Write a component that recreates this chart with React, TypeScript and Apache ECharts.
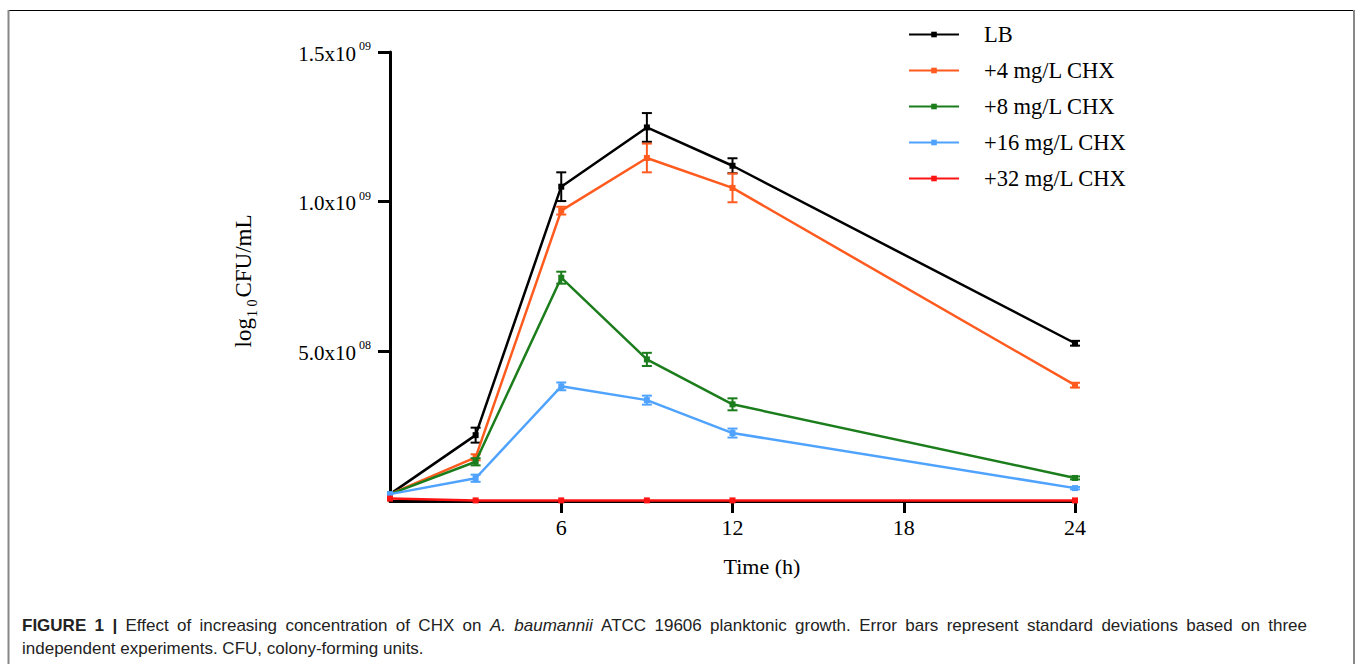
import React, { useEffect, useRef } from "react";
import * as echarts from "echarts";

const times = [0, 3, 6, 9, 12, 24];
const seriesNames = ["LB", "+4 mg/L CHX", "+8 mg/L CHX", "+16 mg/L CHX", "+32 mg/L CHX"];
const seriesColors = ["#000000", "#ff5b1f", "#1b7d1b", "#4fa3ff", "#ff1414"];

const lbMean = [0.023e9, 0.22e9, 1.05e9, 1.248e9, 1.12e9, 0.527e9];
const lbSd = [0, 0.025e9, 0.048e9, 0.048e9, 0.025e9, 0.008e9];
const chx4Mean = [0.023e9, 0.146e9, 0.97e9, 1.146e9, 1.046e9, 0.387e9];
const chx4Sd = [0, 0.01e9, 0.013e9, 0.048e9, 0.048e9, 0.008e9];
const chx8Mean = [0.023e9, 0.131e9, 0.746e9, 0.473e9, 0.323e9, 0.077e9];
const chx8Sd = [0, 0.012e9, 0.02e9, 0.022e9, 0.02e9, 0.005e9];
const chx16Mean = [0.023e9, 0.076e9, 0.383e9, 0.337e9, 0.227e9, 0.043e9];
const chx16Sd = [0, 0.012e9, 0.013e9, 0.015e9, 0.015e9, 0.004e9];
const chx32Mean = [0.008e9, 0.002e9, 0.002e9, 0.002e9, 0.002e9, 0.002e9];
const chx32Sd = [0, 0, 0, 0, 0, 0];

const yTickValues = [5e8, 1e9, 1.5e9];
const yTickLabels = ["5.0x10|08", "1.0x10|09", "1.5x10|09"];
const xTickValues = [6, 12, 18, 24];

const captionLine1 =
  "FIGURE 1 | Effect of increasing concentration of CHX on A. baumannii ATCC 19606 planktonic growth. Error bars represent standard deviations based on three";
const captionLine2 = "independent experiments. CFU, colony-forming units.";
const boldWords = ["FIGURE", "1", "|"];
const italicWords = ["A.", "baumannii"];

const means = [lbMean, chx4Mean, chx8Mean, chx16Mean, chx32Mean];
const sds = [lbSd, chx4Sd, chx8Sd, chx16Sd, chx32Sd];

const SERIF = "'Liberation Serif', 'Times New Roman', serif";
const SANS = "'Liberation Sans', Arial, sans-serif";
const CAP_SIZE = 17;
const CAP_SCALE = 1;
const CAP_COLOR = "#222";

export default function App() {
  const ref = useRef<HTMLDivElement>(null);
  useEffect(() => {
    if (!ref.current) return;
    const chart = echarts.init(ref.current, null, { renderer: "svg" });

    // justified first caption line
    const ctx = document.createElement("canvas").getContext("2d")!;
    const words = captionLine1.split(" ").map((w, idx) => {
      const bold = idx < 3 && boldWords.includes(w);
      const italic = italicWords.includes(w);
      ctx.font = `${italic ? "italic " : ""}${bold ? "bold " : ""}${CAP_SIZE}px "Liberation Sans", Arial, sans-serif`;
      return { w, bold, italic, width: ctx.measureText(w).width * CAP_SCALE };
    });
    const capLeft = 22;
    const capRight = 1307;
    const total = words.reduce((s, o) => s + o.width, 0);
    const gap = (capRight - capLeft - total) / (words.length - 1);
    let cx = capLeft;
    const captionEls: any[] = words.map((o) => {
      const el = {
        type: "text",
        x: cx,
        y: 625,
        scaleX: CAP_SCALE,
        style: {
          text: o.w,
          fontFamily: SANS,
          fontSize: CAP_SIZE,
          fontWeight: o.bold ? "bold" : "normal",
          fontStyle: o.italic ? "italic" : "normal",
          fill: CAP_COLOR,
          verticalAlign: "middle",
        },
      };
      cx += o.width + gap;
      return el;
    });
    captionEls.push({
      type: "text",
      x: capLeft,
      y: 648,
      scaleX: CAP_SCALE,
      style: {
        text: captionLine2,
        fontFamily: SANS,
        fontSize: CAP_SIZE,
        fill: CAP_COLOR,
        verticalAlign: "middle",
      },
    });

    const lineSeries = seriesNames.map((name, i) => ({
      name,
      type: "line",
      data: times.map((t, k) => [t, means[i][k]]),
      symbol: "rect",
      symbolSize: 6,
      showSymbol: true,
      color: seriesColors[i],
      lineStyle: { width: 2.5, color: seriesColors[i] },
      itemStyle: { color: seriesColors[i] },
      z: 3 + i,
    }));

    const errSeries = seriesNames.map((name, i) => ({
      name: name + " SD",
      type: "custom",
      data: times
        .map((t, k) => [t, means[i][k] - sds[i][k], means[i][k] + sds[i][k], sds[i][k]])
        .filter((d) => d[3] > 0),
      encode: { x: 0, y: [1, 2] },
      z: 3 + i,
      renderItem: (params: any, api: any) => {
        const lo = api.coord([api.value(0), api.value(1)]);
        const hi = api.coord([api.value(0), api.value(2)]);
        const w = 5;
        const style = { stroke: seriesColors[i], lineWidth: 2 };
        return {
          type: "group",
          children: [
            { type: "line", shape: { x1: lo[0], y1: lo[1], x2: hi[0], y2: hi[1] }, style },
            { type: "line", shape: { x1: lo[0] - w, y1: lo[1], x2: lo[0] + w, y2: lo[1] }, style },
            { type: "line", shape: { x1: hi[0] - w, y1: hi[1], x2: hi[0] + w, y2: hi[1] }, style },
          ],
        };
      },
    }));

    chart.setOption({
      animation: false,
      backgroundColor: "#ffffff",
      grid: { left: 390, right: 285, top: 52, bottom: 163, containLabel: false },
      legend: {
        orient: "vertical",
        left: 903,
        top: 18,
        itemWidth: 50,
        itemHeight: 7,
        itemGap: 13,
        data: seriesNames,
        textStyle: {
          fontFamily: SERIF,
          fontSize: 22.5,
          color: "#000",
          lineHeight: 22,
          padding: [0, 0, 0, 20],
        },
      },
      xAxis: {
        type: "value",
        min: 0,
        max: 24,
        interval: 6,
        splitLine: { show: false },
        axisLine: { show: true, lineStyle: { color: "#000", width: 3 } },
        axisTick: {
          show: true,
          length: 12,
          customValues: xTickValues,
          lineStyle: { color: "#000", width: 3 },
        },
        axisLabel: {
          customValues: xTickValues,
          color: "#000",
          fontFamily: SERIF,
          fontSize: 22,
          margin: 15,
        },
      },
      yAxis: {
        type: "value",
        min: 0,
        max: 1.5e9,
        interval: 5e8,
        splitLine: { show: false },
        axisLine: { show: true, lineStyle: { color: "#000", width: 3 } },
        axisTick: {
          show: true,
          length: 12,
          customValues: yTickValues,
          lineStyle: { color: "#000", width: 3 },
        },
        axisLabel: {
          customValues: yTickValues,
          margin: 19,
          formatter: (v: number) => {
            const idx = yTickValues.indexOf(v);
            if (idx < 0) return "";
            const [m, e] = yTickLabels[idx].split("|");
            return "{n|" + m + "}{s|" + e + "}";
          },
          rich: {
            n: { fontFamily: SERIF, fontSize: 21, color: "#000", verticalAlign: "bottom", lineHeight: 24 },
            s: { fontFamily: SERIF, fontSize: 12, color: "#000", verticalAlign: "top", lineHeight: 24, padding: [0, 0, 10, 3] },
          },
        },
      },
      graphic: [
        { type: "line", shape: { x1: 8, y1: 10.5, x2: 1354, y2: 10.5 }, style: { stroke: "#000", lineWidth: 1 } },
        { type: "line", shape: { x1: 8.5, y1: 10, x2: 8.5, y2: 664 }, style: { stroke: "#888", lineWidth: 2 } },
        { type: "line", shape: { x1: 1354, y1: 10, x2: 1354, y2: 664 }, style: { stroke: "#888", lineWidth: 2 } },
        {
          type: "text",
          x: 242,
          y: 281,
          rotation: Math.PI / 2,
          style: {
            text: "{a|log}{sub|1 0}{a|CFU/mL}",
            align: "center",
            verticalAlign: "middle",
            rich: {
              a: { fontFamily: SERIF, fontSize: 23, fill: "#000", verticalAlign: "bottom", lineHeight: 26 },
              sub: { fontFamily: SERIF, fontSize: 14, fill: "#000", verticalAlign: "bottom", lineHeight: 26, padding: [0, 2, -4, 1] },
            },
          },
        },
        {
          type: "text",
          x: 762,
          y: 566,
          style: {
            text: "Time (h)",
            fontFamily: SERIF,
            fontSize: 22,
            fill: "#000",
            align: "center",
            verticalAlign: "middle",
          },
        },
        ...captionEls,
      ],
      series: [...errSeries, ...lineSeries],
    });
    return () => chart.dispose();
  }, []);

  return (
    <div
      ref={ref}
      style={{ position: "absolute", left: 0, top: 0, width: 1360, height: 664 }}
    />
  );
}
